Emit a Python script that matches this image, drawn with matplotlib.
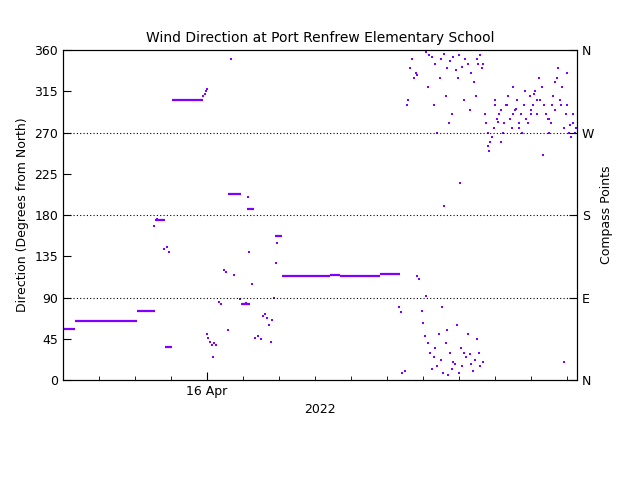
import matplotlib
matplotlib.use("Agg")
import matplotlib.pyplot as plt

# Runs of constant direction: (start hour, end hour, degrees); hour 0 = 15 Apr 2022 00:00
run_start = [0.0, 2.0, 12.3, 15.3, 17.0, 18.2, 27.5, 29.7, 30.7, 35.3, 36.5, 44.5, 46.2, 52.8]
run_end   = [2.0, 12.3, 15.3, 17.0, 18.2, 23.3, 29.7, 31.2, 31.8, 36.5, 44.5, 46.2, 52.8, 56.2]
run_deg   = [56, 64, 75, 175, 36, 306, 203, 83, 187, 157, 114, 115, 114, 116]

# Scattered observations
pt_hour = [23.4, 23.6, 23.8, 24.0, 15.2, 15.6, 16.9, 17.3, 17.6, 24.0, 24.2, 24.5, 24.8, 25.0, 25.2,
           25.5, 26.0, 26.3, 26.8, 27.2, 27.5, 28.5, 29.5, 30.5, 31.0, 31.5, 32.0, 32.5, 33.0,
           33.3, 33.6, 34.0, 34.3, 34.6, 34.9, 35.2, 35.5, 30.8, 28.0, 35.7,
           56.0, 56.3, 56.6, 57.0, 57.3, 57.6, 57.9, 58.2, 58.5, 58.8, 59.1, 59.0, 59.4, 59.8,
           60.0, 60.3, 60.6, 60.9, 61.2, 61.5, 61.8, 62.1, 62.4, 62.7, 63.0, 63.3, 63.6, 63.9,
           64.2, 64.5, 64.8, 65.1, 65.4, 65.7, 66.0, 66.3, 66.6, 66.9, 67.2, 67.5, 67.8, 68.1,
           68.4, 68.7, 69.0, 69.3, 69.6, 70.0, 63.2, 64.0,
           60.5, 61.0, 61.5, 62.0, 62.5, 63.0, 63.5, 64.0, 64.5, 65.0, 65.5, 66.0, 66.5, 67.0,
           67.5, 68.0, 68.5, 69.0, 69.5, 70.0, 60.8, 61.8, 62.8, 63.8, 64.8, 65.8, 66.8, 67.8,
           68.8, 69.8, 66.2, 64.3, 62.3,
           70.3, 70.6, 70.9, 71.2, 71.5, 71.8, 72.1, 72.4, 72.7, 73.0, 73.3, 73.6, 73.9, 74.2,
           74.5, 74.8, 75.1, 75.4, 75.7, 76.0, 76.3, 76.6, 76.9, 77.2, 77.5, 77.8, 78.1, 78.4,
           78.7, 79.0, 79.3, 79.6, 79.9, 80.2, 80.5, 80.8, 81.1, 81.4, 81.7, 82.0, 82.3, 82.6,
           82.9, 83.2, 83.5, 83.8, 84.1, 84.4, 84.7, 85.0, 85.3, 85.6, 71.0, 72.0, 73.0, 74.0,
           75.0, 76.0, 77.0, 78.0, 79.0, 80.0, 81.0, 82.0, 83.0, 84.0, 85.0, 72.5, 75.5, 78.5,
           81.5, 84.5, 70.8, 69.2, 83.5]
pt_deg = [310, 312, 315, 318, 168, 176, 143, 145, 140, 50, 46, 42, 38, 25, 40,
          38, 85, 83, 120, 118, 55, 115, 88, 84, 140, 105, 46, 48, 45, 70,
          72, 68, 60, 42, 65, 90, 128, 200, 350, 150,
          80, 74, 8, 10, 300, 305, 340, 350, 330, 335, 333, 113, 110, 75,
          62, 48, 92, 40, 30, 12, 25, 35, 15, 50, 22, 8, 190, 40,
          5, 30, 12, 20, 18, 60, 8, 35, 15, 30, 25, 50, 28, 18,
          10, 22, 45, 30, 15, 20, 80, 55,
          358, 355, 352, 345, 360, 350, 356, 340, 348, 352, 338, 355, 342, 350,
          345, 335, 325, 350, 355, 345, 320, 300, 330, 310, 290, 330, 305, 295,
          310, 340, 215, 280, 270,
          290, 280, 255, 260, 265, 275, 300, 285, 290, 295, 270, 280, 300, 310,
          285, 275, 290, 295, 305, 280, 290, 270, 300, 285, 280, 310, 295, 300,
          315, 290, 330, 305, 320, 300, 290, 285, 270, 280, 310, 295, 330, 340,
          305, 320, 275, 290, 300, 270, 265, 280, 270, 275, 250, 305, 260, 300,
          320, 275, 315, 290, 305, 245, 285, 325, 300, 335, 290, 282, 296, 312,
          300, 278, 270, 345, 20]

col = "#8000ff"
fig = plt.figure(figsize=(6.4, 4.8), dpi=100)
ax = fig.add_axes([0.0984, 0.2083, 0.8032, 0.6875])
for s, e, d in zip(run_start, run_end, run_deg):
    ax.hlines(d, s, e, color=col, lw=1.6)
ax.scatter(pt_hour, pt_deg, s=2, color=col, marker='s', linewidths=0)
for d in [90, 180, 270]:
    ax.axhline(d, color='black', ls=(0, (1, 2)), lw=0.8)
ax.set_xlim(0, 85.7)
ax.set_ylim(0, 360)
ax.set_yticks(range(0, 361, 45))
ax.set_xticks([24])
ax.set_xticklabels(["16 Apr"])
ax.set_xticks([6, 12, 18, 30, 36, 42, 48, 54, 60, 66, 72, 78, 84], minor=True)
ax.tick_params(direction='in', labelsize=9, length=6)
ax.tick_params(which='minor', direction='in', length=3)
ax.set_xlabel("2022", fontsize=9)
ax.set_ylabel("Direction (Degrees from North)", fontsize=9)
ax.set_title("Wind Direction at Port Renfrew Elementary School", fontsize=10)
ax2 = ax.twinx()
ax2.set_ylim(0, 360)
ax2.set_yticks([0, 90, 180, 270, 360])
ax2.set_yticklabels(["N", "E", "S", "W", "N"])
ax2.tick_params(direction='in', labelsize=9, length=6)
ax2.set_ylabel("Compass Points", fontsize=9)
fig.savefig("out.png", dpi=100)
